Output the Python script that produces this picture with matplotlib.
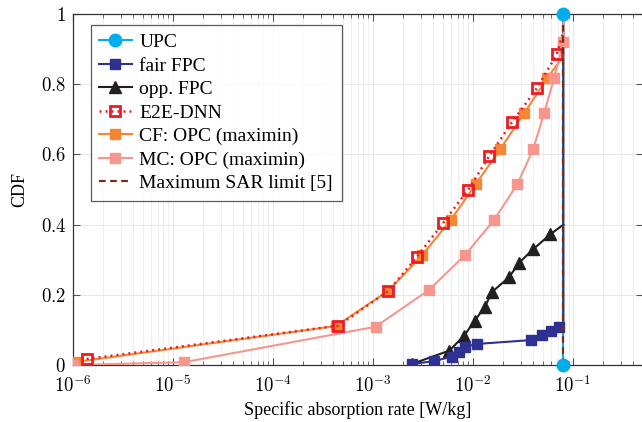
import matplotlib
matplotlib.use("Agg")
import matplotlib.pyplot as plt
import numpy as np
from matplotlib.ticker import FixedLocator, LogLocator, NullFormatter, FuncFormatter

plt.rcParams['font.family'] = ['Liberation Serif', 'DejaVu Serif']
plt.rcParams['mathtext.fontset'] = 'cm'

# ---- data ----
sar_limit = 0.08

upc_x = [0.08, 0.08]
upc_y = [0.0, 1.0]

fair_x = [0.00245, 0.0041, 0.0061, 0.0072, 0.0083, 0.011, 0.038, 0.049, 0.060, 0.072, 0.08, 0.08]
fair_y = [0.003, 0.011, 0.024, 0.038, 0.052, 0.060, 0.071, 0.085, 0.097, 0.109, 0.112, 1.0]

opp_x = [0.00245, 0.0058, 0.0081, 0.0104, 0.0131, 0.0156, 0.0229, 0.0288, 0.040, 0.059, 0.08]
opp_y = [0.003, 0.041, 0.083, 0.126, 0.166, 0.209, 0.250, 0.291, 0.330, 0.372, 0.400]

e2e_x = [1.37e-6, 4.5e-4, 1.42e-3, 2.73e-3, 0.0050, 0.00897, 0.0145, 0.0244, 0.0434, 0.0687, 0.08]
e2e_y = [0.017, 0.112, 0.211, 0.307, 0.404, 0.500, 0.595, 0.691, 0.788, 0.885, 0.95]

cf_x = [1.1e-6, 4.24e-4, 1.42e-3, 3.1e-3, 5.98e-3, 0.01063, 0.0186, 0.0324, 0.0553, 0.08]
cf_y = [0.009, 0.111, 0.211, 0.313, 0.413, 0.515, 0.614, 0.717, 0.818, 0.88]

mc_x = [1.0e-6, 1.29e-5, 1.06e-3, 3.63e-3, 8.3e-3, 0.0162, 0.0277, 0.0398, 0.0513, 0.0646, 0.08, 0.08]
mc_y = [0.0, 0.008, 0.109, 0.214, 0.313, 0.413, 0.515, 0.614, 0.717, 0.818, 0.919, 1.0]

y_ticks = [0, 0.2, 0.4, 0.6, 0.8, 1]
y_ticklabels = ['0', '0.2', '0.4', '0.6', '0.8', '1']
x_decades = [-6, -5, -4, -3, -2, -1]

c_upc = '#00AEEF'
c_fair = '#2E3192'
c_opp = '#231F20'
c_e2e = '#ED1C24'
c_cf = '#F58634'
c_mc = '#F6968D'
c_sar = '#7A2E0E'

fig = plt.figure(figsize=(6.42, 4.22), dpi=100)
ax = fig.add_axes([73/642, 1-365/422, (643-73)/642, (365-14)/422])

lw = 1.5
ms = 7.8
ax.plot(upc_x, upc_y, color=c_upc, lw=lw, zorder=2)
ax.plot(upc_x, upc_y, color=c_upc, lw=0, marker='o', ms=9, clip_on=False, zorder=12)
ax.plot(opp_x, opp_y, color=c_opp, lw=lw, marker='^', ms=8.5,
        markevery=list(range(len(opp_x) - 1)), zorder=3)
ax.plot(fair_x, fair_y, color=c_fair, lw=lw, marker='s', ms=ms,
        markevery=list(range(len(fair_x) - 2)), zorder=4)
ax.plot(cf_x, cf_y, color=c_cf, lw=lw, marker='s', ms=ms,
        markevery=list(range(len(cf_x) - 1)), zorder=4)
ax.plot(mc_x, mc_y, color=c_mc, lw=lw, marker='s', ms=ms,
        markevery=list(range(len(mc_x) - 1)), zorder=4)
ax.plot(e2e_x, e2e_y, color=c_e2e, lw=1.8, ls=(0, (0.8, 1.6)), marker='s', ms=7.2,
        mfc='none', mec=c_e2e, mew=2, markevery=list(range(len(e2e_x) - 1)), zorder=5)
ax.plot([sar_limit, sar_limit], [0, 1], color=c_sar, lw=1.6, ls=(0, (3, 2)), zorder=6)

# legend proxies (same styles)
h = []
h += ax.plot([], [], color=c_upc, lw=lw, marker='o', ms=9, label='UPC')
h += ax.plot([], [], color=c_fair, lw=lw, marker='s', ms=ms, label='fair FPC')
h += ax.plot([], [], color=c_opp, lw=lw, marker='^', ms=8.5, label='opp. FPC')
h += ax.plot([], [], color=c_e2e, lw=1.8, ls=(0, (0.8, 1.6)), marker='s', ms=7.2,
             mfc='none', mec=c_e2e, mew=2, label='E2E-DNN')
h += ax.plot([], [], color=c_cf, lw=lw, marker='s', ms=ms, label='CF: OPC (maximin)')
h += ax.plot([], [], color=c_mc, lw=lw, marker='s', ms=ms, label='MC: OPC (maximin)')
h += ax.plot([], [], color=c_sar, lw=1.6, ls=(0, (3, 2)), label='Maximum SAR limit [5]')

ax.set_xscale('log')
ax.set_xlim(1e-6, 0.5)
ax.set_ylim(0, 1)

ax.xaxis.set_major_locator(FixedLocator([10.0**e for e in x_decades]))
ax.xaxis.set_major_formatter(FuncFormatter(lambda v, p: r'$10^{%d}$' % int(round(np.log10(v)))))
ax.xaxis.set_minor_locator(LogLocator(base=10, subs=np.arange(2, 10), numticks=100))
ax.xaxis.set_minor_formatter(NullFormatter())
ax.set_yticks(y_ticks)
ax.set_yticklabels(['$%s$' % s for s in y_ticklabels])

ax.grid(True, which='major', color='#e8e8e8', lw=0.7)
ax.grid(True, which='minor', axis='x', color='#ededed', lw=0.6)
ax.set_axisbelow(True)

ax.tick_params(which='both', direction='in', top=True, right=True, color='#555555', labelsize=13.5)
ax.tick_params(which='major', length=5, width=0.8)
ax.tick_params(axis='x', which='major', pad=7)
ax.tick_params(axis='y', which='major', pad=5)
ax.tick_params(which='minor', length=3, width=0.6)
for s in ax.spines.values():
    s.set_color('#333333')
    s.set_linewidth(0.9)

ax.set_xlabel('Specific absorption rate [W/kg]', fontsize=13, labelpad=4)
ax.set_ylabel('CDF', fontsize=13, labelpad=9)

leg = ax.legend(handles=h, loc='upper left', bbox_to_anchor=(0.031, 0.969), borderaxespad=0,
                fontsize=14, handlelength=1.65, handletextpad=0.4, labelspacing=0.3,
                borderpad=0.45, frameon=True, fancybox=False)
leg.get_frame().set_edgecolor('#333333')
leg.get_frame().set_linewidth(0.9)
leg.set_zorder(20)

fig.savefig('out.png', dpi=100)
